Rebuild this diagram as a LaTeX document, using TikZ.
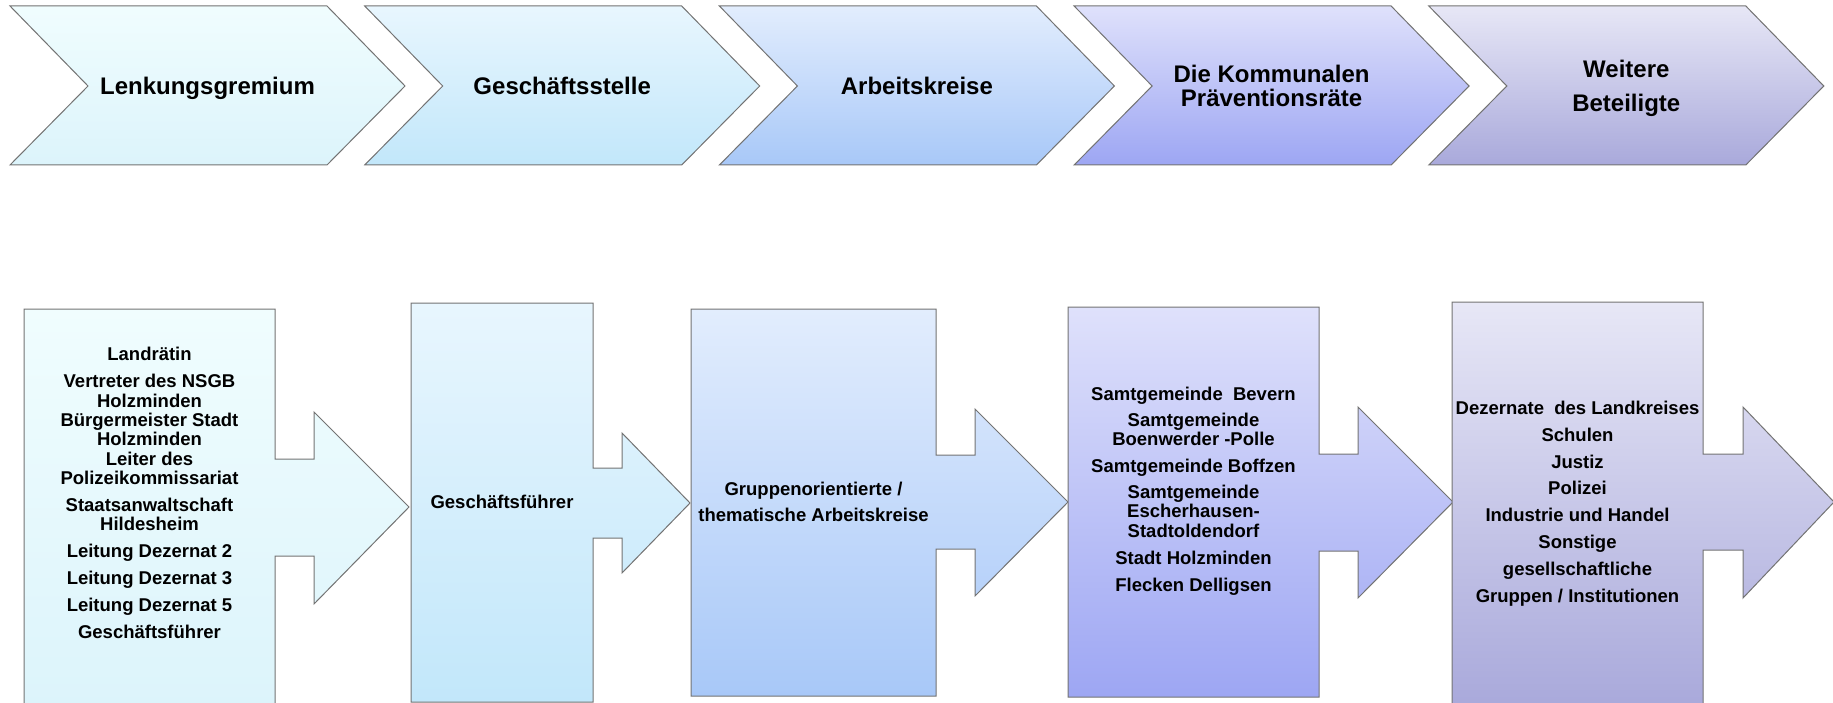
\documentclass[tikz,border=0pt]{standalone}
\usepackage{fontspec}
\setmainfont{Liberation Sans}
\definecolor{stepOneTop}{RGB}{240,253,254}
\definecolor{stepOneBot}{RGB}{220,244,251}
\definecolor{stepTwoTop}{RGB}{232,246,254}
\definecolor{stepTwoBot}{RGB}{194,231,250}
\definecolor{stepThreeTop}{RGB}{226,237,253}
\definecolor{stepThreeBot}{RGB}{168,200,248}
\definecolor{stepFourTop}{RGB}{223,225,251}
\definecolor{stepFourBot}{RGB}{157,166,243}
\definecolor{stepFiveTop}{RGB}{231,231,246}
\definecolor{stepFiveBot}{RGB}{169,169,219}
\definecolor{edgeGray}{RGB}{115,115,115}
\tikzstyle{chevronShape} = [draw=edgeGray, line width=1pt]
\tikzstyle{arrowBox} = [draw=edgeGray, line width=1pt]
\tikzstyle{headText} = [align=center, text=black, text depth=0pt,
	font=\bfseries\fontsize{24pt}{24pt}\selectfont]
\tikzstyle{listText} = [align=center, text=black, text depth=0pt,
	font=\bfseries\fontsize{18.5pt}{19.3pt}\selectfont]

\begin{document}
\begin{tikzpicture}[x=1pt, y=-1pt, node distance=354.7pt]
  \useasboundingbox (0,0) rectangle (1833,703);

  % Prozesskette oben
  \foreach \xl/\ct/\cb in {10/stepOneTop/stepOneBot, 364.7/stepTwoTop/stepTwoBot,
      719.4/stepThreeTop/stepThreeBot, 1074.1/stepFourTop/stepFourBot,
      1428.8/stepFiveTop/stepFiveBot}
    \draw [chevronShape, top color=\ct, bottom color=\cb]
      (\xl,6) -- (\xl+317,6) -- (\xl+395,86) -- (\xl+317,165) -- (\xl,165)
      -- (\xl+78,86) -- cycle;

  \node (LENK) [headText] at (207.5,86) {Lenkungsgremium};
  \node (GST)  [headText, right of=LENK] {Geschäftsstelle};
  \node (AK)   [headText, right of=GST] {Arbeitskreise};
  \node (KPR)  [headText, right of=AK] {Die Kommunalen\\Präventionsräte};
  \node (WEIT) [headText, right of=KPR] {Weitere\\[10pt]Beteiligte};

  % Kaesten mit Pfeil
  \foreach \xl/\yt/\xr/\yb/\ys/\yz/\xh/\yh/\yd/\xt/\yc/\ct/\cb in {
      24/309/275/706/459/556/314/412/604/409/507/stepOneTop/stepOneBot,
      411/303/593/702/468/538/622/433/573/690/503/stepTwoTop/stepTwoBot,
      691/309/936/696/455/549/975/409/596/1068/502/stepThreeTop/stepThreeBot,
      1068/307/1319/697/454/551/1358/407/598/1453/502/stepFourTop/stepFourBot,
      1452/302/1703/706/454/550/1743/407/598/1834/502/stepFiveTop/stepFiveBot}
    \draw [arrowBox, top color=\ct, bottom color=\cb]
      (\xl,\yt) -- (\xr,\yt) -- (\xr,\ys) -- (\xh,\ys) -- (\xh,\yh) -- (\xt,\yc)
      -- (\xh,\yd) -- (\xh,\yz) -- (\xr,\yz) -- (\xr,\yb) -- (\xl,\yb) -- cycle;

  \node (LENKLIST) [listText] at (149.5,493) {Landrätin\\[7.7pt]
    Vertreter des NSGB\\Holzminden\\Bürgermeister Stadt\\Holzminden\\
    Leiter des\\Polizeikommissariat\\[7.7pt]
    Staatsanwaltschaft\\Hildesheim\\[7.7pt]
    Leitung Dezernat 2\\[7.7pt]Leitung Dezernat 3\\[7.7pt]
    Leitung Dezernat 5\\[7.7pt]Geschäftsführer};
  \node (GSTLIST) [listText] at (502,502) {Geschäftsführer};
  \node (AKLIST) [listText] at (813.5,502)
    {Gruppenorientierte /\\[6.7pt]thematische Arbeitskreise};
  \node (KPRLIST) [listText] at (1193.5,489) {Samtgemeinde\ \ Bevern\\[6.7pt]
    Samtgemeinde\\Boenwerder -Polle\\[7.7pt]
    Samtgemeinde Boffzen\\[6.7pt]
    Samtgemeinde\\Escherhausen-\\Stadtoldendorf\\[7.7pt]
    Stadt Holzminden\\[7.7pt]Flecken Delligsen};
  \node (WEITLIST) [listText] at (1577.5,501.5) {Dezernate\ \ des Landkreises\\[7.5pt]
    Schulen\\[7.5pt]Justiz\\[7.5pt]Polizei\\[7.5pt]Industrie und Handel\\[7.5pt]
    Sonstige\\[7.5pt]gesellschaftliche\\[7.5pt]Gruppen / Institutionen};

\end{tikzpicture}
\end{document}
